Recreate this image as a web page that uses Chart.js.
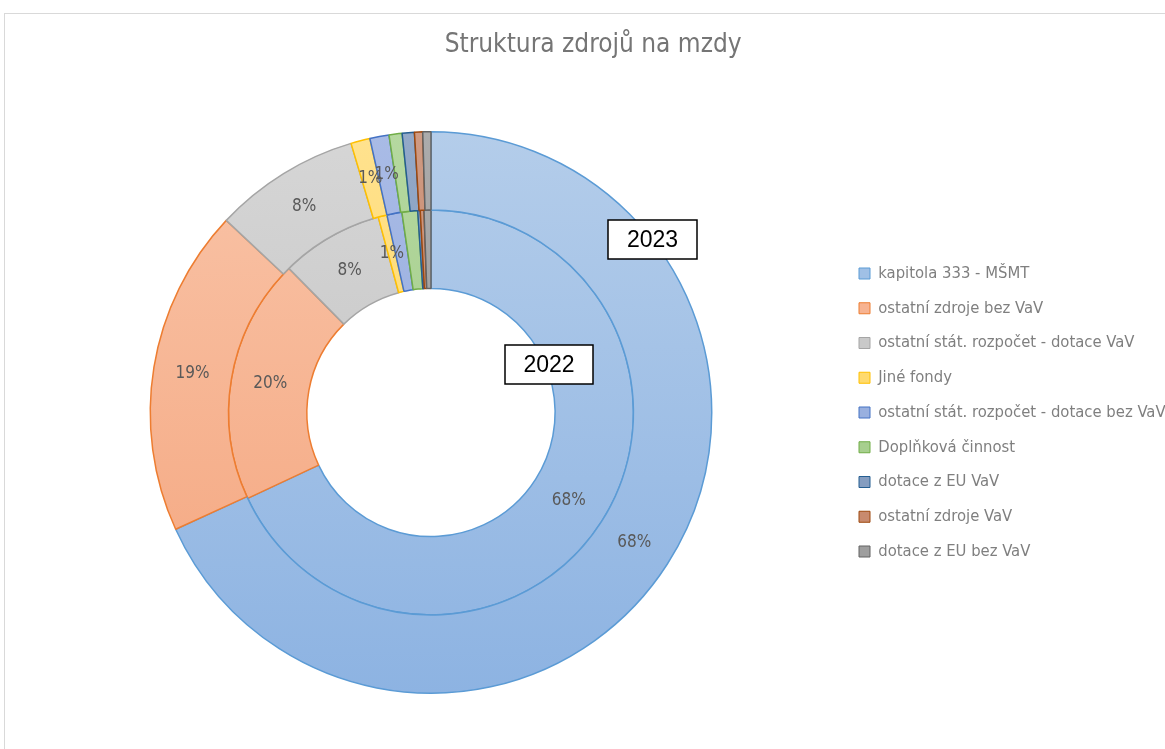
<!DOCTYPE html>
<html>
<head>
<meta charset="utf-8">
<script src="https://cdn.jsdelivr.net/npm/chart.js@4/dist/chart.umd.min.js"></script>
<style>
  html, body { margin: 0; padding: 0; background: #fff; }
  #frame { position: absolute; left: 4px; top: 13px; width: 1200px; height: 800px;
           border-top: 1px solid #d9d9d9; border-left: 1px solid #d9d9d9; }
  #c { position: absolute; left: 0; top: 0; }
</style>
</head>
<body>
<div id="frame"></div>
<canvas id="c" width="1165" height="749"></canvas>
<script>
// zdroje financovani mezd
const categories = [
  "kapitola 333 - MŠMT",
  "ostatní zdroje bez VaV",
  "ostatní stát. rozpočet - dotace VaV",
  "Jiné fondy",
  "ostatní stát. rozpočet - dotace bez VaV",
  "Doplňková činnost",
  "dotace z EU VaV",
  "ostatní zdroje VaV",
  "dotace z EU bez VaV",
];

// podily v % (odhad z grafu)
const values2023 = [68.1, 18.8, 8.4, 1.1, 1.1, 0.75, 0.7, 0.47, 0.47];
const values2022 = [68.1, 19.6, 8.2, 0.7, 1.2, 1.25, 0.2, 0.3, 0.55];

// ktere popisky jsou v puvodnim grafu videt
const shownLabels2023 = [0, 1, 2, 3, 4];
const shownLabels2022 = [0, 1, 2, 3];

// barvy: svetla (nahore), tmavsi (dole), okraj
const fillTop = ["#b4cdea", "#f9c4a8", "#d6d6d6", "#ffe28f", "#a9bbe6", "#b5d8a0", "#93a9c8", "#cf9a82", "#ababab"];
const fillBottom = ["#8db3e2", "#f4a47c", "#bdbdbd", "#ffd24d", "#8aa4d9", "#98c67c", "#7791b8", "#c07a5a", "#919191"];
const legendFill = ["#a0c0e6", "#f7b391", "#c9c9c9", "#ffda6e", "#99b0df", "#a7cf8e", "#859dc0", "#c88a6e", "#9e9e9e"];
const borders = ["#5b9bd5", "#ed7d31", "#a5a5a5", "#ffc000", "#4472c4", "#70ad47", "#255e91", "#9e480e", "#636363"];

const narrow = "'Liberation Sans Narrow', 'DejaVu Sans Condensed', 'Roboto', sans-serif";

const gradCache = {};
function gradient(ctx) {
  const chart = ctx.chart;
  const area = chart.chartArea;
  const i = ctx.dataIndex;
  if (!area) return fillBottom[i];
  const key = i + "_" + area.top + "_" + area.bottom;
  if (!gradCache[key]) {
    const g = chart.ctx.createLinearGradient(0, area.top, 0, area.bottom);
    g.addColorStop(0, fillTop[i]);
    g.addColorStop(1, fillBottom[i]);
    gradCache[key] = g;
  }
  return gradCache[key];
}

// popisky procent uprostred vysecí
const percentLabels = {
  id: "percentLabels",
  afterDatasetsDraw(chart) {
    const ctx = chart.ctx;
    const shown = [shownLabels2023, shownLabels2022];
    ctx.save();
    ctx.font = "17px " + narrow;
    ctx.fillStyle = "#595959";
    ctx.textAlign = "center";
    ctx.textBaseline = "middle";
    chart.data.datasets.forEach((ds, di) => {
      const meta = chart.getDatasetMeta(di);
      const total = ds.data.reduce((a, b) => a + b, 0);
      meta.data.forEach((arc, i) => {
        if (!shown[di].includes(i)) return;
        const p = arc.tooltipPosition();
        ctx.fillText(Math.round((ds.data[i] / total) * 100) + "%", p.x, p.y);
      });
    });
    ctx.restore();
  },
};

// ramecky s rokem
const yearBoxes = {
  id: "yearBoxes",
  afterDraw(chart) {
    const ctx = chart.ctx;
    const boxes = [
      { text: "2023", x: 608, y: 220, w: 89, h: 39 },
      { text: "2022", x: 505, y: 345, w: 88, h: 39 },
    ];
    ctx.save();
    boxes.forEach((b) => {
      ctx.fillStyle = "#fff";
      ctx.fillRect(b.x, b.y, b.w, b.h);
      ctx.strokeStyle = "#000";
      ctx.lineWidth = 1.5;
      ctx.strokeRect(b.x, b.y, b.w, b.h);
      ctx.fillStyle = "#000";
      ctx.font = "23px 'Liberation Sans', Arial, sans-serif";
      ctx.textAlign = "center";
      ctx.textBaseline = "middle";
      ctx.fillText(b.text, b.x + b.w / 2, b.y + b.h / 2 + 1);
    });
    ctx.restore();
  },
};

// pevna sirka legendy
const legendWidth = {
  id: "legendWidth",
  beforeInit(chart) {
    const fit = chart.legend.fit;
    chart.legend.fit = function () {
      fit.bind(chart.legend)();
      this.width = 324.25;
    };
  },
};

new Chart(document.getElementById("c"), {
  type: "doughnut",
  data: {
    labels: categories,
    datasets: [
      { label: "2023", data: values2023, backgroundColor: gradient, borderColor: borders, borderWidth: 1.5 },
      { label: "2022", data: values2022, backgroundColor: gradient, borderColor: borders, borderWidth: 1.5 },
    ],
  },
  options: {
    responsive: false,
    animation: false,
    cutout: "44.2%",
    layout: { padding: { top: 0, bottom: 55, left: 21.25, right: 0 } },
    plugins: {
      title: {
        display: true,
        text: "Struktura zdrojů na mzdy",
        color: "#757575",
        font: { family: narrow, size: 26, weight: "normal", lineHeight: 1.2 },
        padding: { top: 30, bottom: 69.8 },
      },
      legend: {
        position: "right",
        title: {
          display: true,
          text: " ",
          font: { size: 1, lineHeight: 1 },
          padding: { top: 0, bottom: 130 },
        },
        labels: {
          color: "#7f7f7f",
          font: { family: narrow, size: 16.5 },
          boxWidth: 11,
          boxHeight: 11,
          padding: 18.25,
          generateLabels() {
            return categories.map((c, i) => ({
              text: c,
              fillStyle: legendFill[i],
              strokeStyle: borders[i],
              lineWidth: 1,
              fontColor: "#7f7f7f",
              index: i,
            }));
          },
        },
      },
      tooltip: { enabled: false },
    },
  },
  plugins: [percentLabels, yearBoxes, legendWidth],
});
</script>
</body>
</html>
